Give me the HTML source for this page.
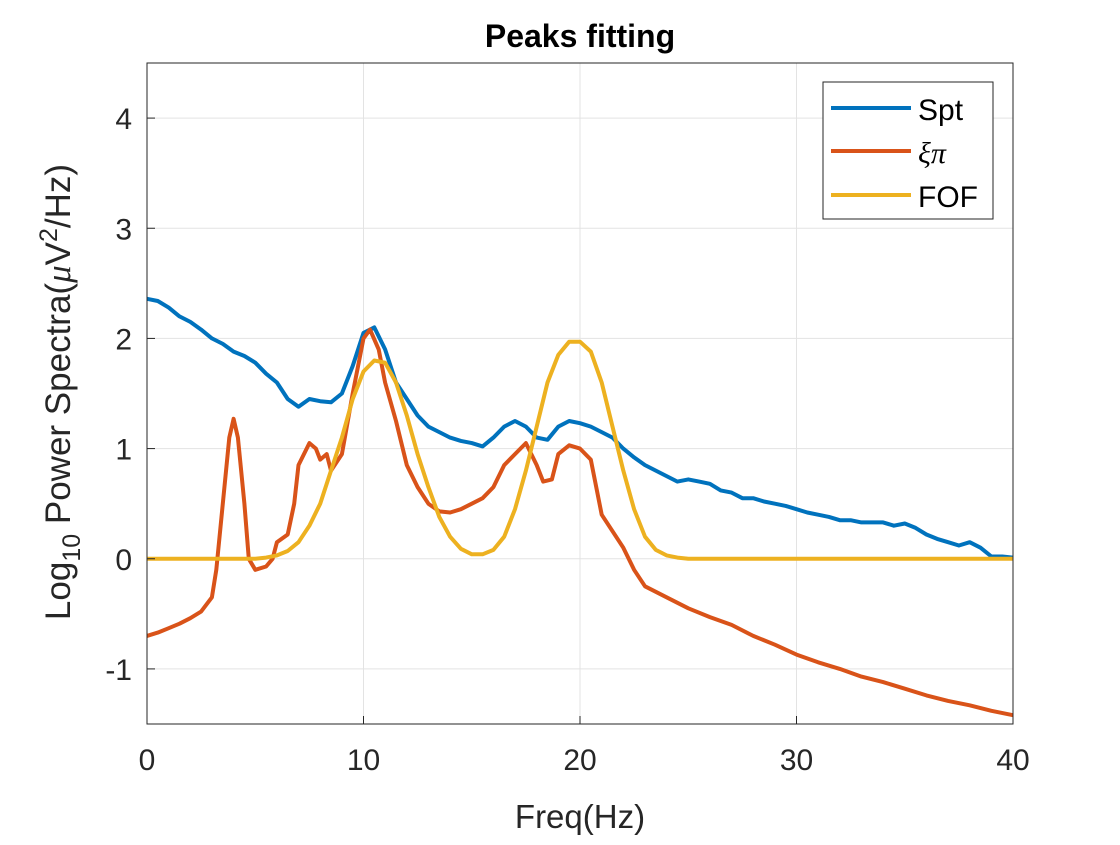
<!DOCTYPE html>
<html><head><meta charset="utf-8"><style>
body{margin:0;background:#fff;}
svg text{font-family:"Liberation Sans",Arial,sans-serif;}
</style></head><body>
<svg id="chart" width="1120" height="840" xmlns="http://www.w3.org/2000/svg">
<rect width="1120" height="840" fill="#fff"/>
<g id="grid"></g>
<g id="series"></g>
<rect x="147" y="63" width="866" height="661" fill="none" stroke="#262626" stroke-width="1"/>
<g id="ticks"></g>
<text x="580" y="47" font-size="32" font-weight="bold" text-anchor="middle" fill="#000">Peaks fitting</text>
<text x="580" y="828" font-size="33" text-anchor="middle" fill="#262626">Freq(Hz)</text>
<text transform="translate(70,392) rotate(-90)" font-size="35" text-anchor="middle" fill="#262626">Log<tspan font-size="25" dy="10">10</tspan><tspan dy="-10"> Power Spectra(</tspan><tspan font-family="Liberation Serif" font-style="italic">μ</tspan>V<tspan font-size="25" dy="-13">2</tspan><tspan dy="13">/Hz)</tspan></text>
<g>
<rect x="823" y="82" width="170" height="137" fill="#fff" stroke="#262626" stroke-width="1"/>
<line x1="831" y1="108" x2="911" y2="108" stroke="#0072BD" stroke-width="4"/>
<text x="918" y="120" font-size="30" fill="#000">Spt</text>
<line x1="831" y1="151" x2="911" y2="151" stroke="#D95319" stroke-width="4"/>
<text x="918" y="163" font-size="30" font-style="italic" fill="#000" style="font-family:'Liberation Serif',serif">ξπ</text>
<line x1="831" y1="195" x2="911" y2="195" stroke="#EDB120" stroke-width="4"/>
<text x="918" y="207" font-size="30" fill="#000">FOF</text>
</g>
</svg>
<script>
const sptFreq=[0,0.5,1,1.5,2,2.5,3,3.5,4,4.5,5,5.5,6,6.5,7,7.5,8,8.5,9,9.5,10,10.5,11,11.5,12,12.5,13,13.5,14,14.5,15,15.5,16,16.5,17,17.5,18,18.5,19,19.5,20,20.5,21,21.5,22,22.5,23,23.5,24,24.5,25,25.5,26,26.5,27,27.5,28,28.5,29,29.5,30,30.5,31,31.5,32,32.5,33,33.5,34,34.5,35,35.5,36,36.5,37,37.5,38,38.5,39,39.5,40];
const sptValues=[2.36,2.34,2.28,2.2,2.15,2.08,2.0,1.95,1.88,1.84,1.78,1.68,1.6,1.45,1.38,1.45,1.43,1.42,1.5,1.75,2.05,2.1,1.9,1.6,1.45,1.3,1.2,1.15,1.1,1.07,1.05,1.02,1.1,1.2,1.25,1.2,1.1,1.08,1.2,1.25,1.23,1.2,1.15,1.1,1.0,0.92,0.85,0.8,0.75,0.7,0.72,0.7,0.68,0.62,0.6,0.55,0.55,0.52,0.5,0.48,0.45,0.42,0.4,0.38,0.35,0.35,0.33,0.33,0.33,0.3,0.32,0.28,0.22,0.18,0.15,0.12,0.15,0.1,0.02,0.02,0.01];
const xpFreq=[0,0.5,1,1.5,2,2.5,3,3.2,3.5,3.8,4,4.2,4.5,4.7,5,5.5,5.8,6,6.5,6.8,7,7.5,7.8,8,8.3,8.5,9,9.5,10,10.3,10.7,11,11.5,12,12.5,13,13.5,14,14.5,15,15.5,16,16.5,17,17.5,18,18.3,18.7,19,19.5,20,20.5,21,21.5,22,22.5,23,23.5,24,25,26,27,28,29,30,31,32,33,34,35,36,37,38,39,40];
const xpValues=[-0.7,-0.67,-0.63,-0.59,-0.54,-0.48,-0.35,-0.1,0.5,1.1,1.27,1.1,0.5,0.0,-0.1,-0.07,0.0,0.15,0.22,0.5,0.85,1.05,1.0,0.9,0.95,0.8,0.95,1.5,2.0,2.08,1.9,1.6,1.25,0.85,0.65,0.5,0.43,0.42,0.45,0.5,0.55,0.65,0.85,0.95,1.05,0.85,0.7,0.72,0.95,1.03,1.0,0.9,0.4,0.25,0.1,-0.1,-0.25,-0.3,-0.35,-0.45,-0.53,-0.6,-0.7,-0.78,-0.87,-0.94,-1.0,-1.07,-1.12,-1.18,-1.24,-1.29,-1.33,-1.38,-1.42];
const fofFreq=[0,5,5.5,6,6.5,7,7.5,8,8.5,9,9.5,10,10.5,11,11.5,12,12.5,13,13.5,14,14.5,15,15.5,16,16.5,17,17.5,18,18.5,19,19.5,20,20.5,21,21.5,22,22.5,23,23.5,24,24.5,25,40];
const fofValues=[0,0,0.01,0.03,0.07,0.15,0.3,0.5,0.8,1.1,1.45,1.7,1.8,1.78,1.6,1.3,0.95,0.65,0.38,0.2,0.09,0.04,0.04,0.08,0.2,0.45,0.8,1.2,1.6,1.85,1.97,1.97,1.88,1.6,1.2,0.8,0.45,0.2,0.08,0.03,0.01,0,0];
const xTicks=[0,10,20,30,40];
const yTicks=[-1,0,1,2,3,4];
const X0=147,X1=1013,Y0=724,Y1=63,XMIN=0,XMAX=40,YMIN=-1.5,YMAX=4.5;
const xs=v=>X0+(v-XMIN)/(XMAX-XMIN)*(X1-X0);
const ys=v=>Y0-(v-YMIN)/(YMAX-YMIN)*(Y0-Y1);
const NS="http://www.w3.org/2000/svg";
const grid=document.getElementById('grid'),ticks=document.getElementById('ticks'),series=document.getElementById('series');
function mk(tag,parent,attrs){const e=document.createElementNS(NS,tag);for(const k in attrs)e.setAttribute(k,attrs[k]);parent.appendChild(e);return e;}
xTicks.forEach(t=>{
 const g=mk('line',grid,{x1:xs(t),x2:xs(t),y1:Y1,y2:Y0,stroke:'#e3e3e3','stroke-width':1});
 
 
 const tk=mk('line',ticks,{x1:xs(t),x2:xs(t),y1:Y0,y2:Y0-8,stroke:'#262626'});
 
 
 const tx=mk('text',ticks,{x:xs(t),y:Y0+46,'font-size':30,'text-anchor':'middle',fill:'#262626'});
 tx.textContent=t;
 
 
});
yTicks.forEach(t=>{
 const g=mk('line',grid,{x1:X0,x2:X1,y1:ys(t),y2:ys(t),stroke:'#e3e3e3','stroke-width':1});
 
 
 const tk=mk('line',ticks,{x1:X0,x2:X0+8,y1:ys(t),y2:ys(t),stroke:'#262626'});
 
 
 const tx=mk('text',ticks,{x:X0-15,y:ys(t)+11,'font-size':30,'text-anchor':'end',fill:'#262626'});
 tx.textContent=t;
 
 
});
function line(fx,fy,color,name){
 const d=fx.map((f,i)=>(i?'L':'M')+xs(f).toFixed(1)+','+ys(fy[i]).toFixed(1)).join('');
 const p=mk('path',series,{d:d,fill:'none',stroke:color,'stroke-width':4,'stroke-linejoin':'round'});
 
 
}
line(sptFreq,sptValues,'#0072BD','spt-line');
line(xpFreq,xpValues,'#D95319','xipi-line');
line(fofFreq,fofValues,'#EDB120','fof-line');
</script>
</body></html>
